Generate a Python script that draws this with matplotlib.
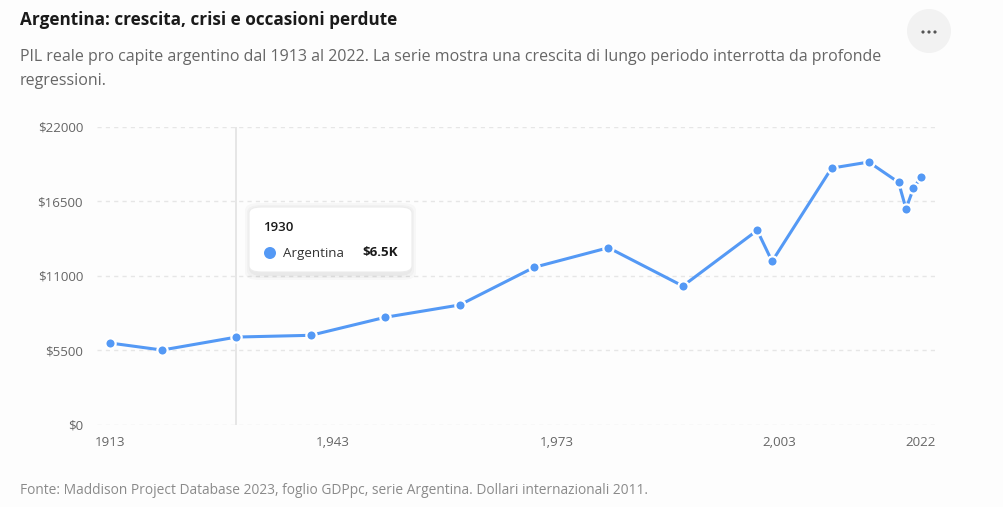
import matplotlib.pyplot as plt
from matplotlib.patches import FancyBboxPatch, Circle

years = [1913, 1920, 1930, 1940, 1950, 1960, 1970, 1980, 1990, 2000, 2002,
         2010, 2015, 2019, 2020, 2021, 2022]
gdp_pc = [6020, 5500, 6460, 6590, 7920, 8830, 11610, 13060, 10230, 14340, 12050,
          18940, 19390, 17890, 15940, 17440, 18260]

y_ticks = [0, 5500, 11000, 16500, 22000]
y_labels = ["$0", "$5500", "$11000", "$16500", "$22000"]
x_ticks = [1913, 1943, 1973, 2003, 2022]
x_labels = ["1913", "1,943", "1,973", "2,003", "2022"]
hover_year = 1930

W, H = 1004, 507
plt.rcParams["font.family"] = ["Open Sans", "DejaVu Sans"]

fig = plt.figure(figsize=(W / 100, H / 100), dpi=100)
fig.patch.set_facecolor("#fdfdfd")


def fx(x):
    return x / W


def fy(y):
    return 1 - y / H


def inch(x, y):
    # pixel position (from top-left) -> inches from bottom-left
    return (x / 100, (H - y) / 100)


ax = fig.add_axes([fx(97), fy(424.5), (935 - 97) / W, (424.5 - 126.7) / H])
ax.set_facecolor("#fdfdfd")

blue = "#5499f5"
ax.plot(years, gdp_pc, color=blue, lw=2.2, zorder=3, solid_capstyle="round")
ax.scatter(years, gdp_pc, s=55, color=blue, edgecolor="white", linewidth=1.6, zorder=4)

# hover crosshair
ax.axvline(hover_year, color="#e2e2e2", lw=1.2, zorder=1)

ax.set_xlim(1911.25, 2023.9)
ax.set_ylim(0, 22000)
ax.set_yticks(y_ticks)
ax.set_yticklabels(y_labels)
ax.set_xticks(x_ticks)
ax.set_xticklabels(x_labels)
ax.tick_params(length=0, colors="#666666", labelsize=9.6)
ax.tick_params(axis="y", pad=10)
ax.tick_params(axis="x", pad=8)
for s in ax.spines.values():
    s.set_visible(False)
ax.yaxis.grid(True, color="#e6e6e6", lw=1, linestyle=(0, (3, 3)))
ax.set_axisbelow(True)

# title, subtitle, footer
fig.text(fx(20), fy(20), "Argentina: crescita, crisi e occasioni perdute",
         fontsize=12.3, fontweight="bold", color="#1a1a1a", va="center")
fig.text(fx(20), fy(57), "PIL reale pro capite argentino dal 1913 al 2022. La serie mostra una "
         "crescita di lungo periodo interrotta da profonde", fontsize=11.5,
         color="#666666", va="center")
fig.text(fx(20), fy(81), "regressioni.", fontsize=11.5, color="#666666", va="center")
fig.text(fx(20), fy(490), "Fonte: Maddison Project Database 2023, foglio GDPpc, serie Argentina. "
         "Dollari internazionali 2011.", fontsize=9.9, color="#8a8a8a", va="center")

# menu button
fig.patches.append(Circle(inch(929, 31), 0.22, transform=fig.dpi_scale_trans,
                          facecolor="#f2f2f2", edgecolor="none"))
for dx in (-6, 0, 6):
    fig.patches.append(Circle(inch(929 + dx, 32), 0.016, transform=fig.dpi_scale_trans,
                              facecolor="#555555", edgecolor="none"))

# tooltip
hv = gdp_pc[years.index(hover_year)]
for i, a in enumerate((0.025, 0.025, 0.03)):
    g = 6 - 2 * i
    sh = FancyBboxPatch((fx(249 - g + 2), fy(272 + g + 2)), (163 + 2 * g - 4) / W,
                        (65 + 2 * g) / H,
                        boxstyle="round,pad=0,rounding_size=0.014",
                        transform=fig.transFigure, facecolor="#000000", alpha=a,
                        edgecolor="none", zorder=5)
    fig.patches.append(sh)
box = FancyBboxPatch((fx(249), fy(272)), (412 - 249) / W, (272 - 207) / H,
                     boxstyle="round,pad=0,rounding_size=0.012",
                     transform=fig.transFigure, facecolor="white",
                     edgecolor="#ececec", lw=0.8, zorder=6)
fig.patches.append(box)
fig.text(fx(263), fy(227), str(hover_year), fontsize=9.5, fontweight="semibold",
         color="#1a1a1a", va="center", zorder=7)
fig.patches.append(Circle(inch(270, 253), 0.06, transform=fig.dpi_scale_trans,
                          facecolor=blue, edgecolor="none", zorder=7))
fig.text(fx(283), fy(253), "Argentina", fontsize=9.6, color="#333333", va="center", zorder=7)
fig.text(fx(398), fy(253), f"${hv / 1000:.1f}K", fontsize=9.6, fontweight="bold",
         color="#1a1a1a", va="center", ha="right", zorder=7)

fig.savefig("out.png", dpi=100, facecolor=fig.get_facecolor())
